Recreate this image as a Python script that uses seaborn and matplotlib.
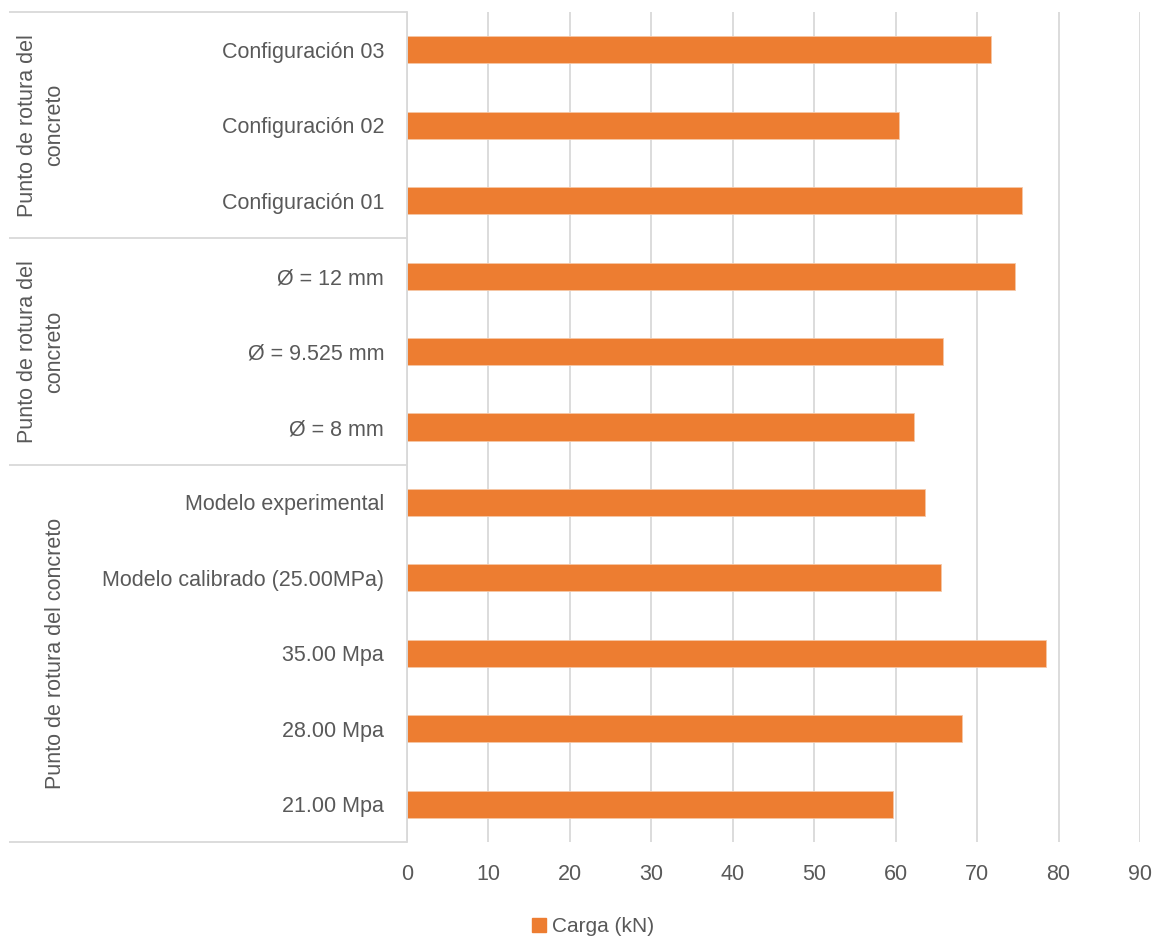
import matplotlib
matplotlib.use("Agg")
import matplotlib.pyplot as plt
import matplotlib.transforms as mtransforms
from matplotlib.patches import Patch
import seaborn as sns
import pandas as pd

# ---- data ----
categorias = [
    "Configuración 03", "Configuración 02", "Configuración 01",
    "Ø = 12 mm", "Ø = 9.525 mm", "Ø = 8 mm",
    "Modelo experimental", "Modelo calibrado (25.00MPa)",
    "35.00 Mpa", "28.00 Mpa", "21.00 Mpa",
]
carga_kn = [71.7, 60.4, 75.5, 74.6, 65.8, 62.3, 63.6, 65.6, 78.4, 68.1, 59.7]
grupos = ["Punto de rotura del\nconcreto", "Punto de rotura del\nconcreto",
          "Punto de rotura del concreto"]
grupo_limites = [(-0.5, 2.5), (2.5, 5.5), (5.5, 10.5)]
x_ticks = [0, 10, 20, 30, 40, 50, 60, 70, 80, 90]
serie = "Carga (kN)"

sns.set_style("white")
plt.rcParams["font.family"] = ["Liberation Sans", "DejaVu Sans"]

TXT = "#595959"
GRID = "#d9d9d9"
ORANGE = "#ED7D31"

df = pd.DataFrame({"categoria": categorias, "valor": carga_kn})

fig = plt.figure(figsize=(11.59, 9.40), dpi=100)
ax = fig.add_axes([407 / 1159, 1 - 842 / 940, (1140 - 407) / 1159, (842 - 12) / 940])

sns.barplot(data=df, x="valor", y="categoria", order=categorias, orient="h",
            color=ORANGE, saturation=1, width=0.36, ax=ax,
            edgecolor="#f6c7a6", linewidth=0.6)

ax.set_xlabel("")
ax.set_ylabel("")
ax.grid(axis="x", color=GRID, lw=1.3)
ax.grid(axis="y", visible=False)
ax.set_axisbelow(True)
for s in ["top", "right", "bottom"]:
    ax.spines[s].set_visible(False)
ax.spines["left"].set_color(GRID)
ax.spines["left"].set_linewidth(1.3)
ax.tick_params(axis="both", length=0, labelsize=15.5, colors=TXT)
ax.tick_params(axis="y", pad=16.5)
ax.tick_params(axis="x", pad=16)

# group label area
trans = mtransforms.blended_transform_factory(ax.transAxes, ax.transData)
x_left = (9 - 407) / (1140 - 407)
bounds = sorted(set([b for pair in grupo_limites for b in pair]))
for yb in bounds:
    ax.plot([x_left, 0], [yb, yb], transform=trans, color=GRID, lw=1.3,
            clip_on=False, solid_capstyle="butt", scalex=False, scaley=False)

for (g, (y0, y1)) in zip(grupos, grupo_limites):
    yc = (y0 + y1) / 2
    if "\n" in g:
        xc = (41 - 407) / (1140 - 407)
    else:
        xc = (56 - 407) / (1140 - 407)
    ax.text(xc, yc, g, transform=trans, rotation=90, ha="center", va="center",
            multialignment="center", fontsize=15.5, color=TXT, linespacing=1.35)

ax.set_xlim(0, 90)
ax.set_xticks(x_ticks)
ax.set_xticklabels([str(t) for t in x_ticks])
ax.set_ylim(len(categorias) - 0.5, -0.5)

fig.legend(handles=[Patch(facecolor=ORANGE, edgecolor=ORANGE)], labels=[serie],
           loc="center", bbox_to_anchor=(593 / 1159, 1 - 927 / 940),
           frameon=False, handlelength=0.65, handleheight=0.65,
           handletextpad=0.3, fontsize=15, labelcolor=TXT)

fig.savefig("out.png", dpi=100, facecolor="white")
